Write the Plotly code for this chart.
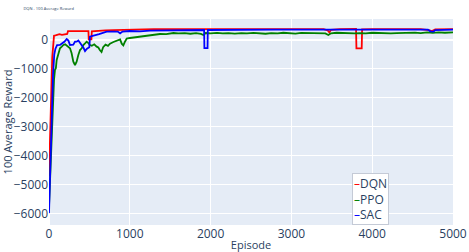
import plotly.graph_objects as go

names = ["DQN", "PPO", "SAC"]
colors = ["red", "green", "blue"]

dqn_points = [
    (0, -4700), (8, -3900), (14, -2800), (25, -1600), (40, -600), (55, -100),
    (62, 150), (80, 160), (100, 170), (130, 200), (160, 180), (200, 200),
    (225, 210), (235, 305), (300, 310), (400, 315), (488, 305), (492, 20),
    (525, 20), (530, 300), (600, 320), (700, 335), (800, 340), (900, 350),
    (1000, 360), (1100, 370), (1200, 365), (1300, 372), (1500, 370),
    (1700, 378), (1900, 375), (2000, 378), (2200, 372), (2500, 378),
    (2800, 375), (3100, 378), (3400, 372), (3450, 330), (3470, 262),
    (3490, 350), (3600, 372), (3800, 378), (3805, -290), (3870, -290),
    (3875, 370), (4000, 376), (4300, 378), (4600, 372), (4700, 340),
    (4740, 310), (4780, 365), (4900, 375), (5000, 378),
]

ppo_points = [
    (0, -5750), (25, -3900), (45, -2170), (62, -1380), (74, -1030), (85, -970),
    (95, -690), (115, -460), (136, -287), (158, -230), (178, -172), (200, -149),
    (219, -195), (240, -230), (260, -287), (280, -460), (301, -747), (322, -862),
    (342, -747), (363, -517), (384, -345), (405, -287), (425, -172), (446, -115),
    (466, -57), (490, -115), (507, -172), (530, -200), (560, -150), (590, -230),
    (610, -260), (631, -356), (650, -414), (670, -250), (700, -160), (730, -200),
    (755, -126), (797, -69), (838, -11), (880, 23), (900, -126), (920, -184),
    (940, -60), (962, 46), (1002, 69), (1085, 103), (1167, 138), (1250, 161),
    (1290, 184), (1373, 207), (1450, 200), (1540, 241), (1600, 225), (1680, 240),
    (1750, 215), (1820, 235), (1880, 210), (1910, 172), (1940, 240), (2000, 230),
    (2080, 245), (2150, 225), (2220, 240), (2300, 220), (2380, 238), (2450, 225),
    (2530, 245), (2600, 230), (2680, 215), (2750, 240), (2830, 230), (2900, 250),
    (2980, 235), (3050, 220), (3120, 245), (3200, 235), (3280, 250), (3350, 240),
    (3420, 225), (3457, 172), (3490, 230), (3560, 250), (3630, 235), (3700, 245),
    (3780, 225), (3850, 240), (3920, 230), (4000, 250), (4080, 235), (4150, 245),
    (4230, 225), (4300, 240), (4380, 250), (4450, 235), (4530, 255), (4600, 240),
    (4680, 260), (4750, 245), (4820, 260), (4900, 250), (4960, 265), (5000, 262),
]

sac_points = [
    (0, -5970), (20, -4000), (35, -2500), (50, -1200), (65, -500), (80, -300),
    (100, -180), (136, -172), (160, -120), (190, -60), (219, 35), (240, -20),
    (260, -172), (301, -160), (322, -57), (342, -57), (363, -20), (384, -100),
    (405, -172), (425, -260), (446, -380), (470, -300), (499, -250), (507, 115),
    (540, 140), (569, 160), (620, 200), (714, 290), (800, 300), (850, 290),
    (880, 230), (910, 290), (1000, 310), (1126, 300), (1250, 320), (1400, 330),
    (1540, 340), (1700, 345), (1900, 350), (1920, 345), (1923, -280), (1962, -280),
    (1965, 345), (2100, 350), (2400, 355), (2800, 355), (3200, 355), (3460, 355),
    (3480, 340), (3600, 355), (4000, 355), (4400, 355), (4690, 355), (4720, 300),
    (4760, 290), (4780, 340), (4900, 355), (5000, 355),
]

series = [dqn_points, ppo_points, sac_points]

fig = go.Figure()
for name, color, pts in zip(names, colors, series):
    fig.add_trace(go.Scatter(
        x=[p[0] for p in pts], y=[p[1] for p in pts], mode="lines", name=name,
        line=dict(color=color, width=1.8), showlegend=False,
    ))

legend_text = "<br>".join(
    f"<span style='color:{c}'>–</span>{n}" for n, c in zip(names, colors)
)
fig.add_annotation(
    text=legend_text, xref="paper", yref="paper", x=0.75, y=0,
    xanchor="left", yanchor="bottom", align="left", showarrow=False,
    font=dict(size=12, color="#2a3f5f"), bgcolor="white",
    bordercolor="#c4cad6", borderwidth=1, borderpad=1,
)

fig.update_layout(
    width=469, height=252,
    template="plotly",
    title=dict(text="DQN - 100 Average Reward", font=dict(size=4), x=0.05),
    margin=dict(l=49, r=16, t=19, b=27, pad=0),
    xaxis=dict(range=[0, 5000], dtick=1000, title=dict(text="Episode", font=dict(size=11), standoff=2), automargin=False),
    yaxis=dict(range=[-6380, 724], dtick=1000, title=dict(text="100 Average Reward", font=dict(size=11), standoff=2), automargin=False),
)

fig.write_html("out.html")
